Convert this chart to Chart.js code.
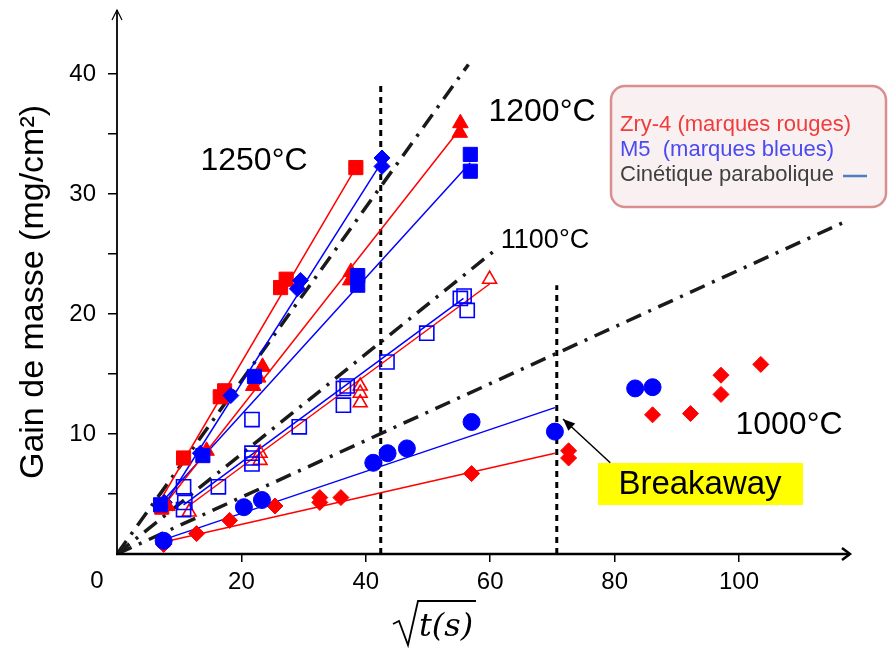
<!DOCTYPE html>
<html>
<head>
<meta charset="utf-8">
<script src="https://cdn.jsdelivr.net/npm/chart.js@4"></script>
<style>
  html, body { margin: 0; padding: 0; background: #fff; }
  #wrap { width: 888px; height: 650px; position: relative; }
</style>
</head>
<body>
<div id="wrap"><canvas id="c"></canvas></div>
<script>
// x = sqrt(t) (s^0.5), y = gain de masse (mg/cm2)
const xTicks = [20, 40, 60, 80, 100];
const yTicks = [5, 10, 15, 20, 25, 30, 35, 40];
const yLabels = [10, 20, 30, 40];

// points
const zry1250 = [[7.2,3.9],[10.7,8.0],[16.6,13.1],[17.3,13.6],[26.3,22.2],[27.2,22.9],[38.4,32.2]];
const m5_1250 = [[7.6,4.3],[13.4,8.4],[18.3,13.2],[29.0,22.1],[29.5,22.8],[42.6,32.3],[42.6,33.0]];
const zry1200 = [[8.1,4.0],[14.4,8.6],[21.9,14.0],[22.7,14.7],[23.4,15.6],[37.5,22.8],[37.6,23.5],[55.1,35.1],[55.2,35.9]];
const m5_1200 = [[7.0,4.1],[13.8,8.2],[22.1,14.8],[38.7,22.4],[38.7,23.2],[56.8,31.9],[56.8,33.3]];
const zry1100 = [[11.6,3.5],[23.0,7.8],[23.0,8.4],[39.1,12.6],[39.1,13.4],[39.1,14.0],[59.9,22.9]];
const m5_1100 = [[10.7,3.7],[10.9,4.3],[10.7,5.6],[16.3,5.6],[21.7,7.5],[21.7,8.0],[21.7,8.4],[21.7,11.2],[29.3,10.6],
                 [36.4,12.4],[36.4,13.8],[37.0,14.0],[43.4,16.0],[49.8,18.4],[55.2,21.3],[55.8,21.5],[56.3,20.3]];
const zry1000 = [[7.5,0.8],[12.8,1.7],[18.1,2.8],[25.4,4.0],[32.6,4.3],[32.6,4.7],[36.0,4.7],[57.0,6.7],[72.6,8.0],
                 [72.6,8.6],[86.1,11.6],[92.2,11.7],[97.1,13.3],[97.1,14.9],[103.5,15.8]];
const m5_1000 = [[7.5,1.1],[20.4,3.9],[23.3,4.5],[41.2,7.6],[43.5,8.4],[46.6,8.8],[57.0,11.0],[70.4,10.2],[83.3,13.8],[86.1,13.9]];

// droites de regression (debut, fin)
const fitZry1250 = [[7.0,4.5],[38.4,32.2]];
const fitM5_1250 = [[7.5,4.0],[42.6,32.7]];
const fitZry1200 = [[7.5,4.0],[55.1,35.4]];
const fitM5_1200 = [[7.0,4.2],[56.8,32.6]];
const fitZry1100 = [[11.5,4.0],[59.9,22.5]];
const fitM5_1100 = [[10.7,4.1],[55.7,21.3]];
const fitZry1000 = [[7.5,1.0],[70.4,8.4]];
const fitM5_1000 = [[7.5,1.2],[70.4,12.2]];

// cinetique parabolique : droites depuis l'origine
const paraEnds = [[56.5,40.8],[60.5,25.2],[117.5,27.8]];

// limites breakaway
const breakX = [42.4, 70.7];
const breakTop = [39.3, 22.4];

const RED = '#ff0000', BLUE = '#0000ff';
const pts = a => a.map(p => ({ x: p[0], y: p[1] }));

function markers(data, style, color, radius, filled) {
  return {
    data: pts(data), showLine: false, order: 1,
    pointStyle: style, pointRadius: radius, pointHoverRadius: radius,
    backgroundColor: filled ? color : 'transparent',
    borderColor: color, borderWidth: filled ? 1 : 1.6
  };
}
function fit(data, color) {
  return { data: pts(data), showLine: true, pointRadius: 0, borderColor: color, borderWidth: 1.5, order: 2 };
}

const datasets = [
  markers(m5_1000, 'circle', BLUE, 8.5, true),
  markers(zry1000, 'rectRot', RED, 8, true),
  markers(m5_1100, 'rect', BLUE, 10, false),
  markers(zry1100, 'triangle', RED, 8, false),
  markers(m5_1200, 'rect', BLUE, 10, true),
  markers(zry1200, 'triangle', RED, 9, true),
  markers(m5_1250, 'rectRot', BLUE, 8, true),
  markers(zry1250, 'rect', RED, 10, true),
  fit(fitZry1250, RED), fit(fitM5_1250, BLUE), fit(fitZry1200, RED), fit(fitM5_1200, BLUE),
  fit(fitZry1100, RED), fit(fitM5_1100, BLUE), fit(fitZry1000, RED), fit(fitM5_1000, BLUE)
];
paraEnds.forEach(e => datasets.push({
  data: [{ x: 0, y: 0 }, { x: e[0], y: e[1] }], showLine: true, pointRadius: 0,
  borderColor: '#1a1a1a', borderWidth: 3.5, borderDash: [16, 8, 3, 8], order: 3
}));
breakX.forEach((bx, i) => datasets.push({
  data: [{ x: bx, y: 0 }, { x: bx, y: breakTop[i] }], showLine: true, pointRadius: 0,
  borderColor: '#000', borderWidth: 3, borderDash: [6, 5], order: 3
}));

const FONT = "'Liberation Sans', Arial, sans-serif";

const decor = {
  id: 'decor',
  afterDatasetsDraw(chart) {
    const ctx = chart.ctx, xs = chart.scales.x, ys = chart.scales.y, a = chart.chartArea;
    const X = v => xs.getPixelForValue(v), Y = v => ys.getPixelForValue(v);
    ctx.save();
    // axes avec fleches
    ctx.strokeStyle = '#000';
    ctx.lineWidth = 2.5;
    ctx.beginPath(); ctx.moveTo(a.left - 1, a.bottom); ctx.lineTo(a.right - 1, a.bottom); ctx.stroke();
    ctx.beginPath(); ctx.moveTo(a.right - 9, a.bottom - 6); ctx.lineTo(a.right - 1, a.bottom); ctx.lineTo(a.right - 9, a.bottom + 6); ctx.stroke();
    ctx.lineWidth = 1.8;
    ctx.beginPath(); ctx.moveTo(a.left, a.bottom + 1); ctx.lineTo(a.left, 10); ctx.stroke();
    ctx.lineWidth = 1.2;
    ctx.beginPath(); ctx.moveTo(a.left - 5, 20); ctx.lineTo(a.left, 10); ctx.lineTo(a.left + 5, 20); ctx.stroke();

    // "0"
    ctx.fillStyle = '#000';
    ctx.font = '24px ' + FONT;
    ctx.textAlign = 'center'; ctx.textBaseline = 'middle';
    ctx.fillText('0', a.left - 20, a.bottom + 27);

    // titre axe y
    ctx.save();
    ctx.translate(34, 292);
    ctx.rotate(-Math.PI / 2);
    ctx.font = '34px ' + FONT;
    ctx.fillText('Gain de masse (mg/cm²)', 0, 0);
    ctx.restore();

    // titre axe x : racine de t(s)
    ctx.lineWidth = 1.8;
    ctx.beginPath();
    ctx.moveTo(393, 624); ctx.lineTo(399, 621); ctx.lineTo(408, 645); ctx.lineTo(418, 601); ctx.lineTo(476, 601);
    ctx.stroke();
    ctx.font = "italic 32px 'DejaVu Serif', 'Liberation Serif', serif";
    ctx.textAlign = 'left'; ctx.textBaseline = 'alphabetic';
    ctx.fillText('t(s)', 419, 636);

    // temperatures
    ctx.font = '32px ' + FONT;
    ctx.textAlign = 'center'; ctx.textBaseline = 'middle';
    ctx.fillText('1250°C', 254, 161);
    ctx.fillText('1200°C', 542, 112);
    ctx.fillText('1000°C', 789, 425);
    ctx.font = '27px ' + FONT;
    ctx.fillText('1100°C', 545, 241);

    // Breakaway
    ctx.fillStyle = '#ffff00';
    ctx.fillRect(598, 463, 205, 42);
    ctx.fillStyle = '#000';
    ctx.font = '33px ' + FONT;
    ctx.fillText('Breakaway', 700, 485);
    const x0 = X(79.3), y0 = Y(7.6), x1 = X(71.7), y1 = Y(11.25);
    ctx.lineWidth = 1.5;
    ctx.beginPath(); ctx.moveTo(x0, y0); ctx.lineTo(x1, y1); ctx.stroke();
    const ang = Math.atan2(y1 - y0, x1 - x0);
    ctx.beginPath();
    ctx.moveTo(x1, y1);
    ctx.lineTo(x1 - 13 * Math.cos(ang - 0.4), y1 - 13 * Math.sin(ang - 0.4));
    ctx.lineTo(x1 - 13 * Math.cos(ang + 0.4), y1 - 13 * Math.sin(ang + 0.4));
    ctx.closePath(); ctx.fill();

    // legende
    const bx = 611, by = 86, bw = 275, bh = 121, r = 14;
    ctx.beginPath();
    ctx.moveTo(bx + r, by);
    ctx.arcTo(bx + bw, by, bx + bw, by + bh, r);
    ctx.arcTo(bx + bw, by + bh, bx, by + bh, r);
    ctx.arcTo(bx, by + bh, bx, by, r);
    ctx.arcTo(bx, by, bx + bw, by, r);
    ctx.closePath();
    ctx.fillStyle = '#f9f1f1'; ctx.fill();
    ctx.strokeStyle = '#d98f8f'; ctx.lineWidth = 2.5; ctx.stroke();
    ctx.font = '22px ' + FONT;
    ctx.textAlign = 'left'; ctx.textBaseline = 'alphabetic';
    ctx.fillStyle = '#f03c3c'; ctx.fillText('Zry-4 (marques rouges)', 620, 131);
    ctx.fillStyle = '#4a4af0'; ctx.fillText('M5  (marques bleues)', 620, 156);
    ctx.fillStyle = '#404040'; ctx.fillText('Cinétique parabolique', 620, 181);
    ctx.strokeStyle = '#4a7fc1'; ctx.lineWidth = 2.5;
    ctx.beginPath(); ctx.moveTo(843, 176); ctx.lineTo(867, 176); ctx.stroke();
    ctx.restore();
  }
};

new Chart(document.getElementById('c'), {
  type: 'scatter',
  data: { datasets },
  options: {
    responsive: true, maintainAspectRatio: false, animation: false,
    layout: { padding: { left: 0, right: 37, top: 14, bottom: 0 } },
    plugins: { legend: { display: false }, tooltip: { enabled: false } },
    scales: {
      x: {
        type: 'linear', min: 0, max: 118,
        afterFit: s => { s.height = 96; s.paddingLeft = 0; s.paddingRight = 0; },
        afterBuildTicks: s => { s.ticks = xTicks.map(v => ({ value: v })); },
        grid: { drawOnChartArea: false, drawTicks: true, tickLength: 8, color: '#000', lineWidth: 1.5 },
        border: { display: false },
        ticks: { autoSkip: false, maxRotation: 0, padding: 6, color: '#000', font: { family: FONT, size: 24 } }
      },
      y: {
        type: 'linear', min: 0, max: 45,
        afterFit: s => { s.width = 117; s.paddingTop = 0; s.paddingBottom = 0; },
        afterBuildTicks: s => { s.ticks = yTicks.map(v => ({ value: v })); },
        grid: { drawOnChartArea: false, drawTicks: true, tickLength: 9, color: '#000', lineWidth: 1.5 },
        border: { display: false },
        ticks: {
          autoSkip: false, padding: 12, color: '#000', font: { family: FONT, size: 24 },
          callback: v => yLabels.includes(v) ? String(v) : ''
        }
      }
    }
  },
  plugins: [decor]
});
</script>
</body>
</html>
